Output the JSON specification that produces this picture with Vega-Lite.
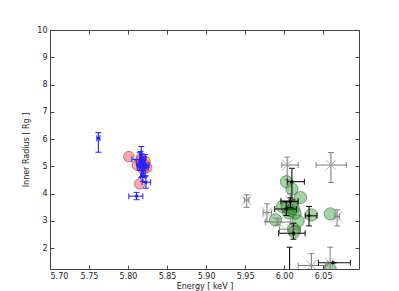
{
  "$schema": "https://vega.github.io/schema/vega-lite/v6.json",
  "width": 309,
  "height": 239,
  "autosize": "none",
  "padding": {"left": 50, "top": 30, "right": 40, "bottom": 22},
  "config": {
    "view": {"stroke": "#444", "strokeWidth": 1},
    "font": "DejaVu Sans",
    "axis": {"domain": false, "grid": false, "tickSize": -4, "tickColor": "#444", "labelFontSize": 8, "labelColor": "#222", "titleFontSize": 8, "titleFontWeight": "normal", "titleColor": "#222", "labelPadding": 7}
  },
  "datasets": {
    "red": [
      {"x": 5.801, "y": 5.36}, {"x": 5.812, "y": 5.05}, {"x": 5.815, "y": 4.36}, {"x": 5.816, "y": 5.2},
      {"x": 5.818, "y": 5.0}, {"x": 5.82, "y": 5.1}, {"x": 5.822, "y": 5.18}, {"x": 5.824, "y": 4.95},
      {"x": 5.817, "y": 5.3}, {"x": 5.819, "y": 4.92}
    ],
    "green": [
      {"x": 6.003, "y": 4.44}, {"x": 6.010, "y": 4.17}, {"x": 6.021, "y": 3.86}, {"x": 5.998, "y": 3.53},
      {"x": 5.989, "y": 3.04}, {"x": 6.035, "y": 3.22}, {"x": 6.059, "y": 3.26}, {"x": 6.018, "y": 3.0},
      {"x": 6.012, "y": 2.70}, {"x": 6.014, "y": 3.29}, {"x": 6.004, "y": 3.5}, {"x": 6.008, "y": 3.38},
      {"x": 6.010, "y": 3.6}, {"x": 6.006, "y": 3.3}, {"x": 6.012, "y": 3.45}, {"x": 6.059, "y": 1.24},
      {"x": 6.013, "y": 2.6}
    ],
    "bars": [
      {"g": "blue", "x": 5.762, "y": 6.03, "xl": 5.760, "xh": 5.764, "yl": 5.52, "yh": 6.24},
      {"g": "blue", "x": 5.811, "y": 3.91, "xl": 5.801, "xh": 5.819, "yl": 3.78, "yh": 4.05},
      {"g": "blue", "x": 5.817, "y": 5.15, "xl": 5.814, "xh": 5.821, "yl": 4.6, "yh": 5.73},
      {"g": "blue", "x": 5.818, "y": 5.0, "xl": 5.812, "xh": 5.824, "yl": 4.62, "yh": 5.45},
      {"g": "blue", "x": 5.820, "y": 4.95, "xl": 5.815, "xh": 5.826, "yl": 4.6, "yh": 5.35},
      {"g": "blue", "x": 5.816, "y": 5.25, "xl": 5.805, "xh": 5.822, "yl": 4.95, "yh": 5.55},
      {"g": "blue", "x": 5.822, "y": 5.05, "xl": 5.818, "xh": 5.827, "yl": 4.65, "yh": 5.43},
      {"g": "blue", "x": 5.823, "y": 4.42, "xl": 5.818, "xh": 5.829, "yl": 4.2, "yh": 4.65},
      {"g": "blue", "x": 5.819, "y": 4.65, "xl": 5.816, "xh": 5.822, "yl": 4.45, "yh": 4.85},
      {"g": "blue", "x": 5.815, "y": 5.1, "xl": 5.811, "xh": 5.819, "yl": 4.85, "yh": 5.5},
      {"g": "gray", "x": 5.952, "y": 3.77, "xl": 5.949, "xh": 5.955, "yl": 3.50, "yh": 3.96},
      {"g": "gray", "x": 5.978, "y": 3.31, "xl": 5.973, "xh": 5.984, "yl": 2.98, "yh": 3.63},
      {"g": "gray", "x": 6.004, "y": 5.05, "xl": 5.997, "xh": 6.018, "yl": 4.51, "yh": 5.34},
      {"g": "gray", "x": 6.060, "y": 5.05, "xl": 6.041, "xh": 6.080, "yl": 4.41, "yh": 5.51},
      {"g": "gray", "x": 6.035, "y": 1.37, "xl": 6.018, "xh": 6.053, "yl": 0.9, "yh": 1.80},
      {"g": "gray", "x": 6.059, "y": 1.45, "xl": 6.056, "xh": 6.062, "yl": 0.8, "yh": 2.04},
      {"g": "gray", "x": 6.068, "y": 3.16, "xl": 6.065, "xh": 6.071, "yl": 2.82, "yh": 3.41},
      {"g": "gray", "x": 6.008, "y": 3.75, "xl": 5.996, "xh": 6.018, "yl": 3.5, "yh": 4.0},
      {"g": "gray", "x": 5.992, "y": 2.96, "xl": 5.976, "xh": 6.008, "yl": 2.85, "yh": 3.1},
      {"g": "gray", "x": 6.010, "y": 2.70, "xl": 5.994, "xh": 6.021, "yl": 2.5, "yh": 2.9},
      {"g": "black", "x": 6.010, "y": 4.44, "xl": 6.004, "xh": 6.026, "yl": 3.77, "yh": 4.93},
      {"g": "black", "x": 6.007, "y": 1.0, "xl": 6.007, "xh": 6.007, "yl": 0.0, "yh": 2.04},
      {"g": "black", "x": 6.063, "y": 1.47, "xl": 6.044, "xh": 6.085, "yl": 1.47, "yh": 1.47},
      {"g": "black", "x": 6.032, "y": 3.19, "xl": 6.027, "xh": 6.042, "yl": 2.82, "yh": 3.53},
      {"g": "black", "x": 6.012, "y": 2.55, "xl": 5.993, "xh": 6.027, "yl": 2.33, "yh": 2.92},
      {"g": "black", "x": 6.003, "y": 3.44, "xl": 5.988, "xh": 6.016, "yl": 3.2, "yh": 3.7},
      {"g": "black", "x": 6.008, "y": 3.71, "xl": 5.996, "xh": 6.018, "yl": 3.5, "yh": 3.85}
    ]
  },
  "resolve": {"axis": {"x": "independent", "y": "independent"}},
  "layer": [
    {
      "data": {"name": "red"},
      "mark": {"type": "point", "filled": true, "size": 110, "fill": "#ff4d4d", "fillOpacity": 0.5, "stroke": "#552222", "strokeOpacity": 0.6, "strokeWidth": 0.8, "clip": true},
      "encoding": {
        "x": {"field": "x", "type": "quantitative", "scale": {"domain": [5.70, 6.096], "nice": false, "zero": false},
              "axis": {"orient": "bottom", "title": "Energy [ keV ]", "values": [5.70, 5.75, 5.80, 5.85, 5.90, 5.95, 6.00, 6.05], "format": ".2f", "titlePadding": 2}},
        "y": {"field": "y", "type": "quantitative", "scale": {"domain": [1.24, 10], "nice": false, "zero": false},
              "axis": {"orient": "left", "title": "Inner Radius [ Rg ]", "values": [2, 3, 4, 5, 6, 7, 8, 9, 10], "titlePadding": 6}}
      }
    },
    {
      "data": {"name": "green"},
      "mark": {"type": "point", "filled": true, "size": 150, "fill": "#33a033", "fillOpacity": 0.45, "stroke": "#224422", "strokeOpacity": 0.6, "strokeWidth": 0.8, "clip": true},
      "encoding": {
        "x": {"field": "x", "type": "quantitative", "axis": {"orient": "top", "labels": false, "title": null, "values": [5.70, 5.75, 5.80, 5.85, 5.90, 5.95, 6.00, 6.05]}},
        "y": {"field": "y", "type": "quantitative", "axis": {"orient": "right", "labels": false, "title": null, "values": [2, 3, 4, 5, 6, 7, 8, 9, 10]}}
      }
    },
    {
      "data": {"name": "bars"},
      "mark": {"type": "rule", "strokeWidth": 1.1, "clip": true},
      "encoding": {
        "x": {"field": "x", "type": "quantitative", "axis": null},
        "y": {"field": "yl", "type": "quantitative", "axis": null},
        "y2": {"field": "yh"},
        "color": {"field": "g", "type": "nominal", "legend": null, "scale": {"domain": ["gray", "black", "blue"], "range": ["#777777", "#000000", "#2222ff"]}},
        "opacity": {"field": "g", "type": "nominal", "legend": null, "scale": {"domain": ["gray", "black", "blue"], "range": [0.9, 1, 0.6]}}
      }
    },
    {
      "data": {"name": "bars"},
      "mark": {"type": "rule", "strokeWidth": 1.1, "clip": true},
      "encoding": {
        "y": {"field": "y", "type": "quantitative", "axis": null},
        "x": {"field": "xl", "type": "quantitative", "axis": null},
        "x2": {"field": "xh"},
        "color": {"field": "g", "type": "nominal", "legend": null},
        "opacity": {"field": "g", "type": "nominal", "legend": null}
      }
    },
    {
      "data": {"name": "bars"},
      "transform": [{"fold": ["yl", "yh"], "as": ["k", "cy"]}],
      "mark": {"type": "tick", "orient": "horizontal", "size": 6, "thickness": 1, "clip": true},
      "encoding": {
        "x": {"field": "x", "type": "quantitative", "axis": null},
        "y": {"field": "cy", "type": "quantitative", "axis": null},
        "color": {"field": "g", "type": "nominal", "legend": null},
        "opacity": {"field": "g", "type": "nominal", "legend": null}
      }
    },
    {
      "data": {"name": "bars"},
      "transform": [{"fold": ["xl", "xh"], "as": ["k", "cx"]}],
      "mark": {"type": "tick", "orient": "vertical", "size": 6, "thickness": 1, "clip": true},
      "encoding": {
        "x": {"field": "cx", "type": "quantitative", "axis": null},
        "y": {"field": "y", "type": "quantitative", "axis": null},
        "color": {"field": "g", "type": "nominal", "legend": null},
        "opacity": {"field": "g", "type": "nominal", "legend": null}
      }
    },
    {
      "data": {"name": "bars"},
      "transform": [{"filter": "datum.g === 'gray'"}],
      "mark": {"type": "point", "shape": "M-1,-1L1,1M-1,1L1,-1", "size": 110, "stroke": "#999999", "strokeWidth": 1, "clip": true},
      "encoding": {
        "x": {"field": "x", "type": "quantitative", "axis": null},
        "y": {"field": "y", "type": "quantitative", "axis": null}
      }
    },
    {
      "data": {"name": "bars"},
      "transform": [{"filter": "datum.g !== 'gray'"}],
      "mark": {"type": "point", "shape": "square", "filled": true, "size": 8, "clip": true},
      "encoding": {
        "x": {"field": "x", "type": "quantitative", "axis": null},
        "y": {"field": "y", "type": "quantitative", "axis": null},
        "color": {"field": "g", "type": "nominal", "legend": null},
        "opacity": {"field": "g", "type": "nominal", "legend": null}
      }
    }
  ]
}
